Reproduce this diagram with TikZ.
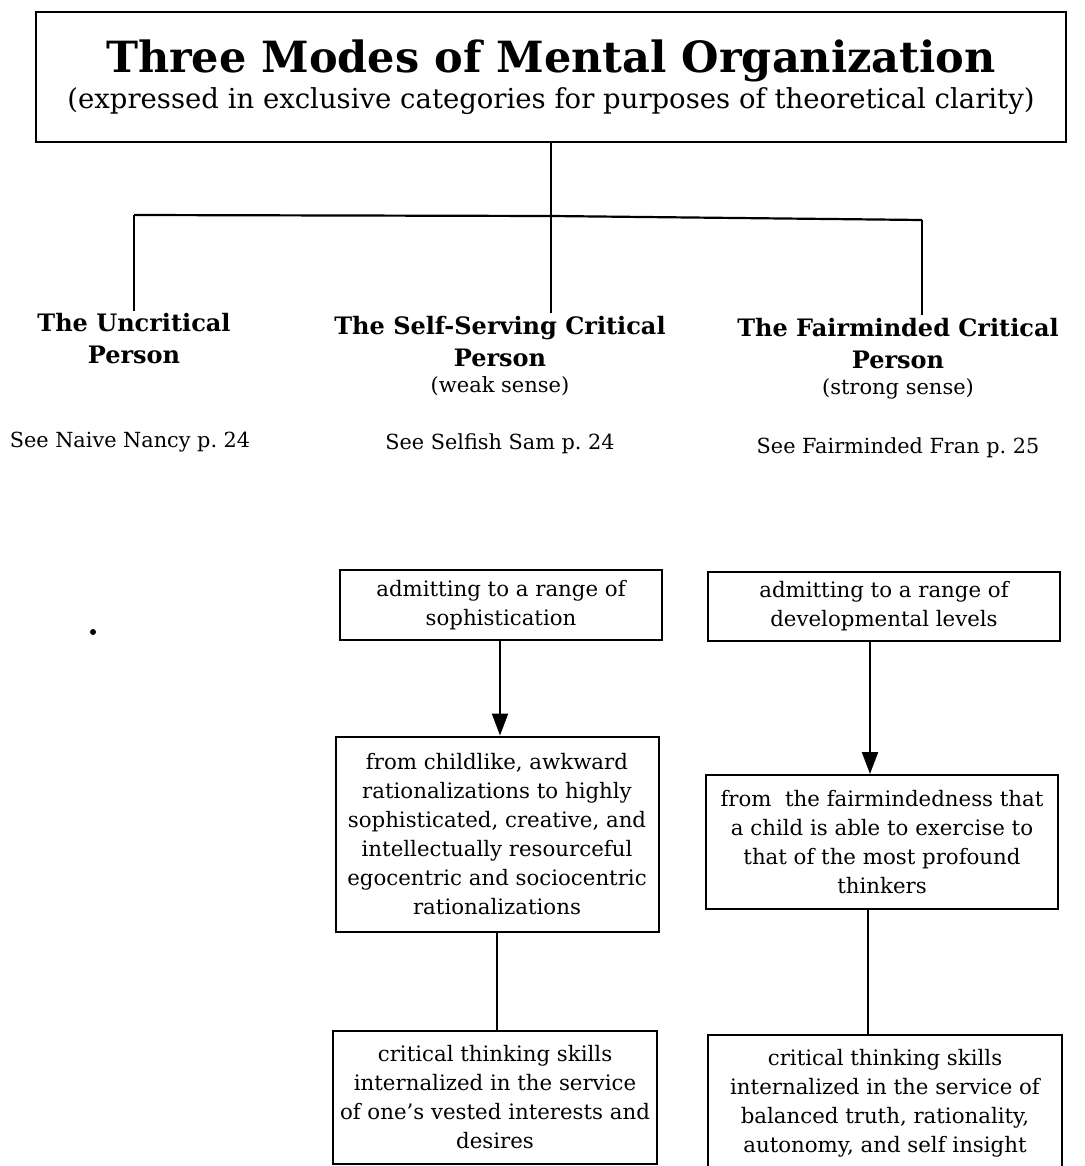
\documentclass[tikz,border=0pt]{standalone}
\usepackage{fontspec}
\setmainfont{DejaVu Serif}
\usetikzlibrary{arrows.meta}
\begin{document}
\begin{tikzpicture}[x=1pt,y=-1pt,line width=2.2pt,
	box/.style={draw, line width=2pt, align=center, inner sep=0pt, font=\fontsize{21.3}{29}\selectfont},
	head/.style={align=center, inner sep=2pt, font=\fontsize{24}{32}\selectfont\bfseries},
	see/.style={align=center, inner sep=0pt, font=\fontsize{20.8}{24}\selectfont},
	arr/.style={-{Triangle[length=22pt,width=16pt]}}]
	\useasboundingbox (0,0) rectangle (1084,1166);
	\node (T) at (551, 77)	[draw, line width=2pt, minimum width=1030pt, minimum height=130pt, align=center]
		{{\fontsize{43}{48}\selectfont\bfseries Three Modes of Mental Organization}\\[4pt]
		 {\fontsize{27.5}{34}\selectfont (expressed in exclusive categories for purposes of theoretical clarity)}};
	\coordinate (jL) at (134, 215);
	\coordinate (jM) at (551, 216);
	\coordinate (jR) at (922, 220);
	\node (U) at (134, 339)	[head]	{The Uncritical\\Person};
	\node (S) at (500, 356)	[head]	{The Self-Serving Critical\\Person\\[-6pt]{\fontsize{21}{24}\mdseries\selectfont(weak sense)}};
	\node (F) at (898, 359)	[head]	{The Fairminded Critical\\Person\\[-6pt]{\fontsize{21}{24}\mdseries\selectfont(strong sense)}};
	\node (nU) at (130, 442)	[see]	{See Naive Nancy p.\ 24};
	\node (nS) at (500, 444)	[see]	{See Selfish Sam p.\ 24};
	\node (nF) at (898, 448)	[see]	{See Fairminded Fran p.\ 25};
	\fill (93, 632) circle (3pt);
	\node (A1) at (501, 605)	[box, minimum width=322pt, minimum height=70pt]
		{admitting to a range of\\sophistication};
	\node (A2) at (497, 834)	[box, minimum width=323pt, minimum height=195pt]
		{from childlike, awkward\\rationalizations to highly\\sophisticated, creative, and\\intellectually resourceful\\egocentric and sociocentric\\rationalizations};
	\node (A3) at (495, 1097)	[box, minimum width=324pt, minimum height=133pt]
		{critical thinking skills\\internalized in the service\\of one's vested interests and\\desires};
	\node (B1) at (884, 606)	[box, minimum width=352pt, minimum height=69pt]
		{admitting to a range of\\developmental levels};
	\node (B2) at (882, 842)	[box, minimum width=352pt, minimum height=134pt]
		{from\ \ the fairmindedness that\\a child is able to exercise to\\that of the most profound\\thinkers};
	\node (B3) at (885, 1103)	[box, minimum width=354pt, minimum height=136pt]
		{critical thinking skills\\internalized in the service of\\balanced truth, rationality,\\autonomy, and self insight};
	\draw (T.south) -- (jM);
	\draw (jL) -- (jM) -- (jR);
	\draw (jL) -- (U.north -| jL);
	\draw (jM) -- (S.north -| jM);
	\draw (jR) -- (F.north -| jR);
	\draw[arr] (A1.south -| 500, 0) -- (A2.north -| 500, 0);
	\draw (A2.south -| 497, 0) -- (A3.north -| 497, 0);
	\draw[arr] (B1.south -| 870, 0) -- (B2.north -| 870, 0);
	\draw (B2.south -| 868, 0) -- (B3.north -| 868, 0);
\end{tikzpicture}
\end{document}
